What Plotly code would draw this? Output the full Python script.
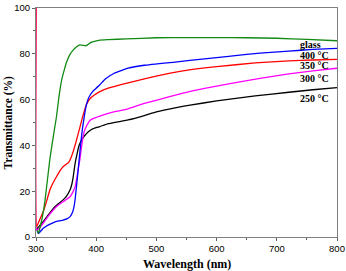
import plotly.graph_objects as go

# Data (wavelength nm, transmittance %)
glass_wl = [302, 304, 310, 315, 323, 330, 334, 338, 343, 347, 351, 356, 362, 368, 373, 378, 382, 386, 390, 397, 406, 420, 450, 500, 550, 600, 650, 700, 750, 800]
glass_t = [3, 1.6, 8, 16, 34, 46, 52.5, 61, 69, 73, 76.5, 79.5, 81.7, 83.2, 83.9, 83.7, 83.5, 84, 84.8, 85.4, 86, 86.2, 86.5, 87, 87.1, 87.1, 87, 86.8, 86.3, 85.7]

c400_wl = [302, 304, 312, 320, 329, 338, 345, 352, 357, 361, 363, 365, 368, 371, 374, 377, 381, 384, 387, 390, 394, 398, 406, 415, 430, 453, 480, 531, 580, 620, 672, 720, 760, 800]
c400_t = [2.5, 1.5, 3.8, 5.2, 6.3, 7, 7.4, 8, 9, 11, 13, 16.5, 24, 32, 40, 47, 54, 58, 60.5, 62, 63.5, 64.5, 66.5, 69, 71.5, 73.7, 75, 76.4, 77.8, 78.9, 80.3, 81.2, 81.9, 82.4]

c350_wl = [300, 301, 306, 312, 318, 323, 328, 334, 340, 345, 350, 354, 358, 362, 367, 373, 378, 384, 390, 397, 406, 420, 453, 480, 523, 560, 600, 664, 720, 760, 800]
c350_t = [100, 4.5, 7.5, 11, 16, 20.5, 23.5, 26.3, 29, 30.7, 31.8, 32.5, 34.5, 37.5, 42, 48, 53, 58, 60.5, 62, 63.5, 65, 67.3, 69.1, 71.6, 73.2, 74.4, 76, 76.9, 77.3, 77.6]

c300_wl = [300, 301, 304, 312, 320, 328.7, 337, 345, 351, 356.5, 361, 365, 368, 370, 373, 376, 380, 384, 390, 398, 406, 420, 440, 453, 480, 522, 560, 600, 672, 720, 760, 800]
c300_t = [100, 3, 3.5, 6, 9, 11.8, 14, 15.4, 16.5, 17.6, 19.5, 22, 26, 29.3, 34, 40, 46, 48.5, 51, 52, 52.8, 54, 55.2, 56, 58.3, 61.3, 63.8, 65.9, 69.3, 71.2, 72.5, 73.7]

c250_wl = [300, 306, 312, 320, 328.7, 337, 345, 351, 356.5, 359, 361, 363, 365, 368, 371, 375, 380, 387, 395, 406, 420, 453, 480, 500, 531, 556, 600, 664, 720, 760, 800]
c250_t = [3, 5, 6.7, 9.5, 12.5, 14.5, 16.2, 18, 20.5, 22.5, 24.9, 28.5, 32.2, 36, 39.5, 42, 44, 46, 47.3, 48.2, 49.5, 51.1, 53, 54.6, 56.4, 57.6, 59.4, 61.6, 63.2, 64.3, 65.2]

labels = ["glass", "400 °C", "350 °C", "300 °C", "250 °C"]
label_y = [84.0, 79.4, 75.0, 69.3, 60.6]
label_x = 737

x_ticks = [300, 400, 500, 600, 700, 800]
y_ticks = [0, 20, 40, 60, 80, 100]

series = [
    (c250_wl, c250_t, "#000000"),
    (c300_wl, c300_t, "#ff00ff"),
    (c350_wl, c350_t, "#ff0000"),
    (c400_wl, c400_t, "#0000ff"),
    (glass_wl, glass_t, "#138a13"),
]

fig = go.Figure()
for wl, t, col in series:
    fig.add_trace(go.Scatter(x=wl, y=t, mode="lines", line=dict(color=col, width=1.3, shape="spline", smoothing=0.3),
                             showlegend=False, hoverinfo="skip"))

for txt, yy in zip(labels, label_y):
    fig.add_annotation(x=label_x, y=yy, xref="x", yref="y", text="<b>" + txt + "</b>", showarrow=False,
                       xanchor="left", yanchor="middle", borderpad=0,
                       font=dict(family="Liberation Serif", size=10, color="#000000"))

# axis titles placed as annotations (paper coords)
fig.add_annotation(x=0.5, y=-0.118, xref="paper", yref="paper", text="<b>Wavelength (nm)</b>", showarrow=False,
                   xanchor="center", yanchor="middle",
                   font=dict(family="Liberation Serif", size=12, color="#000000"))
fig.add_annotation(x=-0.09, y=0.5, xref="paper", yref="paper", text="<b>Transmittance (%)</b>", showarrow=False,
                   xanchor="center", yanchor="middle", textangle=-90,
                   font=dict(family="Liberation Serif", size=11.5, color="#000000"))

axis_common = dict(showgrid=False, zeroline=False, showline=True, linecolor="#808080", linewidth=1,
                   mirror=True, ticks="outside", ticklen=3, tickwidth=1, tickcolor="#606060", automargin=False,
                   tickfont=dict(family="Liberation Sans", size=9.5, color="#000000"))

fig.update_xaxes(range=[300, 800], tickvals=x_ticks,
                 minor=dict(tickvals=[350, 450, 550, 650, 750], ticks="outside", ticklen=2, tickcolor="#606060"),
                 **axis_common)
fig.update_yaxes(range=[0, 100], tickvals=y_ticks,
                 minor=dict(tickvals=[10, 30, 50, 70, 90], ticks="outside", ticklen=2, tickcolor="#606060"),
                 **axis_common)

fig.update_layout(width=346, height=271, margin=dict(l=36, r=9, t=8, b=34),
                  paper_bgcolor="white", plot_bgcolor="white")

fig.write_html("out.html", config={"displayModeBar": False},
               post_script="document.body.style.margin='0';")
